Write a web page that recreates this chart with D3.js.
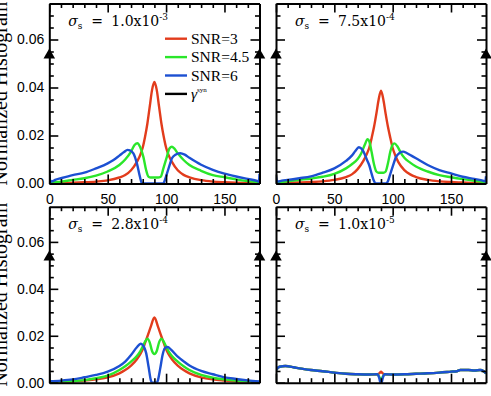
<!DOCTYPE html>
<html><head><meta charset="utf-8">
<script src="https://cdn.jsdelivr.net/npm/d3@7/dist/d3.min.js"></script>
<style>body{margin:0;background:#fff} svg{display:block}</style>
</head><body><svg id="c" width="491" height="396"></svg>
<script>
// ---- data ----
const xDomain = [0, 180];
const yDomain = [0, 0.075];
const xTicks = [0, 50, 100, 150];
const xMinor = [10,20,30,40,60,70,80,90,110,120,130,140,160,170];
const yTicks = [0, 0.02, 0.04, 0.06];
const yMinor = [0.005,0.01,0.015,0.025,0.03,0.035,0.045,0.05,0.055,0.065,0.07];
const seriesNames = ["SNR=3", "SNR=4.5", "SNR=6"];
const sigmaMant = ["1.0", "7.5", "2.8", "1.0"];
const sigmaExp = ["-3", "-4", "-4", "-5"];
const synPoints = [[0, 0.0535], [180, 0.0535]];

// panel 1: sigma 1.0e-3
const p1_snr3 = [[0,0.0001],[20,0.0003],[30,0.0005],[40,0.0008],[50,0.0013],[60,0.0025],[65,0.0035],[70,0.0055],[75,0.009],[78,0.012],[80,0.015],[82,0.0195],[84,0.025],[86,0.032],[88,0.039],[90,0.0423],[92,0.039],[94,0.032],[96,0.025],[98,0.0195],[100,0.015],[102,0.012],[105,0.009],[110,0.0055],[115,0.0036],[120,0.0026],[130,0.0014],[140,0.0008],[150,0.0005],[160,0.0003],[170,0.0002],[180,0.0001]];
const p1_snr45 = [[0,0.0004],[5,0.0006],[10,0.0008],[20,0.0015],[30,0.0022],[40,0.0033],[50,0.005],[60,0.0077],[65,0.010],[70,0.0133],[73,0.016],[75.5,0.0168],[77.7,0.0153],[80.6,0.011],[82.9,0.0056],[85,0.0028],[87,0.0025],[93,0.0025],[95.4,0.0028],[97.7,0.0063],[100.6,0.011],[102.9,0.0146],[105,0.0153],[107,0.0146],[110,0.0126],[115,0.0098],[120,0.0077],[130,0.0053],[140,0.0035],[150,0.0026],[160,0.0017],[170,0.001],[180,0.0005]];
const p1_snr6 = [[0,0.004],[1,0.0008],[3,0.001],[5,0.0015],[10,0.0022],[20,0.0035],[30,0.0045],[40,0.0063],[50,0.0084],[55,0.0098],[60,0.0116],[64,0.0131],[67,0.014],[69,0.0138],[72,0.0126],[75,0.0084],[77.5,0.003],[79,0.0004],[80,0],[97.5,0],[99,0.0015],[101,0.0045],[103.5,0.0084],[105,0.0105],[108,0.012],[112,0.0126],[116,0.012],[120,0.0107],[130,0.0078],[140,0.0057],[150,0.0041],[160,0.0029],[170,0.0019],[178,0.0011],[179.5,0.0008],[180,0.004]];

// panel 2: sigma 7.5e-4
const p2_snr3 = [[0,0.0001],[20,0.0004],[30,0.0006],[40,0.0009],[50,0.0015],[60,0.0027],[65,0.0038],[70,0.006],[75,0.0095],[78,0.0125],[80,0.015],[82,0.019],[84,0.0235],[86,0.029],[88,0.035],[90,0.0387],[92,0.035],[94,0.029],[96,0.0235],[98,0.019],[100,0.0148],[102,0.012],[105,0.0088],[110,0.0056],[115,0.0038],[120,0.0027],[130,0.0015],[140,0.0009],[150,0.0006],[160,0.0004],[170,0.0002],[180,0.0001]];
const p2_snr45 = [[0,0.0004],[10,0.0009],[20,0.0015],[30,0.0021],[40,0.0028],[50,0.004],[60,0.0063],[65,0.008],[70,0.0102],[73,0.0125],[76,0.016],[78.5,0.0185],[80,0.0175],[82,0.013],[84,0.008],[86,0.005],[88,0.0045],[92,0.0045],[94,0.005],[96,0.0085],[98,0.0133],[100,0.0162],[101.5,0.0167],[104,0.0155],[107,0.0128],[110,0.0107],[115,0.0087],[120,0.0071],[130,0.005],[140,0.0035],[150,0.0026],[160,0.0018],[170,0.0011],[180,0.0005]];
const p2_snr6 = [[0,0.003],[1,0.0008],[5,0.0012],[10,0.0015],[20,0.0022],[30,0.003],[40,0.0045],[50,0.0063],[60,0.0094],[65,0.0116],[68,0.0135],[71,0.0151],[73,0.0146],[75,0.0133],[78,0.0098],[80,0.0075],[82,0.004],[84,0.001],[85.5,0],[94.5,0],[96,0.001],[98,0.004],[100,0.007],[103,0.0112],[106,0.0128],[109,0.0133],[112,0.0127],[116,0.0116],[120,0.0105],[130,0.0077],[140,0.0056],[150,0.0042],[160,0.0028],[170,0.0019],[178,0.0011],[179.5,0.0009],[180,0.003]];

// panel 3: sigma 2.8e-4
const p3_snr3 = [[0,0.0002],[10,0.0003],[20,0.0005],[30,0.0009],[40,0.0014],[50,0.0023],[60,0.004],[65,0.0054],[70,0.0073],[75,0.01],[78,0.0123],[80,0.0142],[82,0.017],[84,0.0197],[87,0.024],[90,0.0278],[93,0.024],[96,0.0197],[98,0.017],[100,0.0142],[102,0.0123],[105,0.01],[110,0.0073],[115,0.0054],[120,0.004],[130,0.0023],[140,0.0014],[150,0.0009],[160,0.0005],[170,0.0003],[180,0.0002]];
const p3_snr45 = [[0,0.0003],[10,0.0005],[20,0.0007],[30,0.0011],[40,0.0019],[50,0.003],[60,0.0054],[65,0.007],[70,0.009],[75,0.0114],[78,0.0135],[80,0.0154],[82,0.0175],[84,0.0188],[86,0.0172],[88,0.0135],[90,0.0122],[92,0.0135],[94,0.0172],[96,0.0188],[98,0.0175],[100,0.0154],[102,0.0135],[105,0.0114],[110,0.009],[115,0.007],[120,0.0054],[130,0.0033],[140,0.0021],[150,0.0014],[160,0.0009],[170,0.0006],[180,0.0003]];
const p3_snr6 = [[0,0.0006],[10,0.0009],[20,0.0014],[30,0.0023],[40,0.0033],[50,0.0047],[60,0.0071],[65,0.009],[70,0.0118],[75,0.0151],[78.3,0.0166],[80,0.0161],[83,0.0125],[85,0.0068],[87,0.001],[88,0],[92,0],[93,0.001],[95,0.0061],[97,0.0118],[99,0.0147],[101.4,0.0152],[104,0.0142],[110,0.0111],[115,0.0091],[120,0.0073],[130,0.005],[140,0.0036],[150,0.0023],[160,0.0016],[170,0.001],[180,0.0005]];

// panel 4: sigma 1.0e-5
const p4_snr3 = [[0,0.0054],[3,0.0068],[8,0.0071],[15,0.0066],[20,0.0061],[30,0.0054],[40,0.0049],[50,0.0043],[60,0.0038],[70,0.0036],[80,0.0035],[87,0.0036],[89,0.0042],[90,0.0047],[91,0.0042],[93,0.0036],[100,0.0035],[110,0.0036],[120,0.0038],[130,0.004],[140,0.0043],[150,0.0047],[155,0.0049],[158,0.0054],[165,0.0054],[170,0.0052],[175,0.0054],[178,0.0049],[180,0.004]];
const p4_snr45 = [[0,0.0054],[3,0.0068],[8,0.0071],[15,0.0066],[20,0.0061],[30,0.0054],[40,0.0049],[50,0.0043],[60,0.0038],[70,0.0036],[80,0.0035],[87,0.0036],[89,0.002],[90,0.0012],[91,0.002],[93,0.0036],[100,0.0035],[110,0.0036],[120,0.0038],[130,0.004],[140,0.0043],[150,0.0047],[155,0.0049],[158,0.0054],[165,0.0054],[170,0.0052],[175,0.0054],[178,0.0049],[180,0.004]];
const p4_snr6 = [[0,0.0054],[3,0.0068],[8,0.0071],[15,0.0066],[20,0.0061],[30,0.0054],[40,0.0049],[50,0.0043],[60,0.0038],[70,0.0036],[80,0.0035],[87,0.0036],[88.5,0.002],[89.5,0],[90.5,0],[91.5,0.002],[93,0.0036],[100,0.0035],[110,0.0036],[120,0.0038],[130,0.004],[140,0.0043],[150,0.0047],[155,0.0049],[158,0.0054],[165,0.0054],[170,0.0052],[175,0.0054],[178,0.0049],[180,0.004]];

const colors = ["#e23c1c", "#2ae62a", "#1c50d2"];

const panels = [
  {series:[p1_snr3,p1_snr45,p1_snr6], x0:49.3, x1:259.5, y0:3.5, y1:183.5, left:true, xlab:true, legend:true},
  {series:[p2_snr3,p2_snr45,p2_snr6], x0:276, x1:486, y0:3.5, y1:183.5, left:false, xlab:true, legend:false},
  {series:[p3_snr3,p3_snr45,p3_snr6], x0:49.3, x1:259.5, y0:206.7, y1:382.7, left:true, xlab:false, legend:false},
  {series:[p4_snr3,p4_snr45,p4_snr6], x0:276, x1:486, y0:206.7, y1:382.7, left:false, xlab:false, legend:false}
];

const svg = d3.select("#c");
const defs = svg.append("defs");
const sans = "'Liberation Sans', Arial, sans-serif";
const serif = "'Liberation Serif', 'Times New Roman', serif";
const wideSerif = "'DejaVu Serif', serif";

panels.forEach((p, i) => {
  const x = d3.scaleLinear().domain(xDomain).range([p.x0, p.x1]);
  const y = d3.scaleLinear().domain(yDomain).range([p.y1, p.y0]);
  const g = svg.append("g");
  const cid = "clip" + i;
  defs.append("clipPath").attr("id", cid).append("rect")
    .attr("x", p.x0).attr("y", p.y0).attr("width", p.x1 - p.x0).attr("height", p.y1 - p.y0);

  const line = d3.line().x(d => x(d[0])).y(d => y(d[1])).curve(d3.curveMonotoneX);
  p.series.forEach((data, k) => {
    g.append("path").datum(data).attr("d", line).attr("fill", "none")
      .attr("stroke", colors[k]).attr("stroke-width", 2.4)
      .attr("stroke-linejoin", "round").attr("clip-path", `url(#${cid})`);
  });

  function addAxis(axisFn, scale, vals, size, tx, ty, labels, pad, withDomain) {
    const a = axisFn(scale).tickValues(vals).tickSize(-size).tickSizeOuter(0).tickPadding(pad);
    if (!labels) a.tickFormat("");
    else if (labels === "y") a.tickFormat(d3.format(".2f"));
    else a.tickFormat(d3.format("d"));
    const ag = g.append("g").attr("transform", `translate(${tx},${ty})`).call(a);
    ag.selectAll(".tick line").attr("stroke", "#000").attr("stroke-width", 1.6);
    ag.selectAll("text").attr("font-family", sans).attr("font-size", 14).attr("fill", "#000");
    if (withDomain) ag.select(".domain").attr("stroke", "#000").attr("stroke-width", 2);
    else ag.select(".domain").remove();
  }
  // left
  addAxis(d3.axisLeft, y, yTicks, 9, p.x0, 0, p.left ? "y" : false, 5, true);
  addAxis(d3.axisLeft, y, yMinor, 4.5, p.x0, 0, false, 0, false);
  // right
  addAxis(d3.axisRight, y, yTicks, 9, p.x1, 0, false, 0, true);
  addAxis(d3.axisRight, y, yMinor, 4.5, p.x1, 0, false, 0, false);
  // top
  addAxis(d3.axisTop, x, xTicks, 9, 0, p.y0, false, 0, true);
  addAxis(d3.axisTop, x, xMinor, 4.5, 0, p.y0, false, 0, false);
  // bottom
  addAxis(d3.axisBottom, x, xTicks, 9, 0, p.y1, p.xlab ? "x" : false, 11, true);
  addAxis(d3.axisBottom, x, xMinor, 4.5, 0, p.y1, false, 0, false);

  // gamma_syn markers
  g.selectAll(".syn").data(synPoints).enter().append("path")
    .attr("d", d3.symbol(d3.symbolTriangle, 58))
    .attr("transform", d => `translate(${x(d[0])},${y(d[1])})`)
    .attr("fill", "#000");

  // sigma annotation
  const t = g.append("text").attr("x", p.x0 + 19).attr("y", p.y0 + 22.5)
    .attr("font-family", wideSerif).attr("font-size", 14).attr("fill", "#000");
  t.append("tspan").attr("font-style", "italic").text("σ");
  t.append("tspan").attr("font-size", 9).attr("dy", 3).text("s");
  t.append("tspan").attr("x", p.x0 + 42).attr("dy", -3).text("=");
  t.append("tspan").attr("x", p.x0 + 62).text(sigmaMant[i] + "x10");
  t.append("tspan").attr("font-size", 9).attr("dy", -6).text(sigmaExp[i]);

  if (p.left) {
    svg.append("text").attr("transform", `translate(7,${(p.y0 + p.y1) / 2}) rotate(-90)`)
      .attr("text-anchor", "middle").attr("font-family", serif).attr("font-size", 20)
      .attr("fill", "#000").text("Normalized Histogram");
  }

  if (p.legend) {
    const lx0 = 165, lx1 = 187, ly = 38.7, dy = 18.4;
    const names = seriesNames.concat(["γ"]);
    const lcol = colors.concat(["#000"]);
    names.forEach((n, k) => {
      g.append("line").attr("x1", lx0).attr("x2", lx1).attr("y1", ly + k * dy).attr("y2", ly + k * dy)
        .attr("stroke", lcol[k]).attr("stroke-width", 2.4);
      const tt = g.append("text").attr("x", 191).attr("y", ly + k * dy + 5)
        .attr("font-family", serif).attr("font-size", 15.5).attr("fill", "#000");
      if (k < 3) tt.text(n);
      else {
        tt.append("tspan").attr("font-style", "italic").text("γ");
        tt.append("tspan").attr("font-size", 7).attr("dy", -7).text("syn");
      }
    });
  }
});
</script></body></html>
